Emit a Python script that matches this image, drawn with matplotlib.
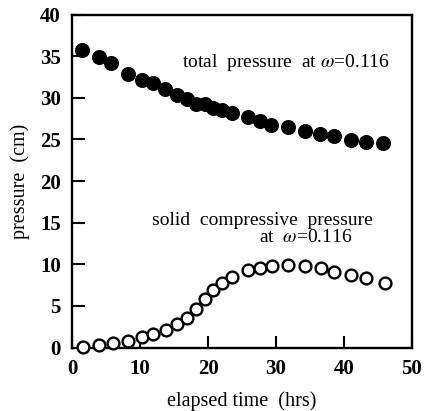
import matplotlib
matplotlib.use("Agg")
import matplotlib.pyplot as plt

# total pressure (filled circles)
t_total = [1.4, 3.9, 5.8, 8.3, 10.3, 11.9, 13.7, 15.4, 16.9, 18.2, 19.6, 20.8, 22.0, 23.6,
           25.9, 27.6, 29.2, 31.8, 34.3, 36.5, 38.5, 41.0, 43.2, 45.8]
p_total = [35.8, 34.9, 34.2, 32.9, 32.1, 31.8, 31.0, 30.3, 29.9, 29.3, 29.2, 28.8, 28.5, 28.2,
           27.7, 27.2, 26.7, 26.5, 26.0, 25.7, 25.4, 24.9, 24.7, 24.6]

# solid compressive pressure (open circles)
t_solid = [1.6, 3.9, 6.0, 8.3, 10.3, 11.9, 13.8, 15.5, 16.9, 18.2, 19.6, 20.8, 22.0, 23.6,
           25.9, 27.6, 29.4, 31.8, 34.3, 36.6, 38.5, 41.0, 43.3, 46.0]
p_solid = [0.1, 0.3, 0.5, 0.8, 1.3, 1.6, 2.1, 2.8, 3.6, 4.6, 5.8, 6.9, 7.8, 8.5,
           9.3, 9.6, 9.8, 9.9, 9.8, 9.5, 9.1, 8.7, 8.3, 7.8]

x_ticks = [0, 10, 20, 30, 40, 50]
y_ticks = [0, 5, 10, 15, 20, 25, 30, 35, 40]

plt.rcParams['font.family'] = ['Liberation Serif', 'DejaVu Serif']
plt.rcParams['mathtext.fontset'] = 'stix'

fig = plt.figure(figsize=(4.32, 4.11), dpi=100)
ax = fig.add_axes([0.1667, 0.1545, 0.787, 0.810])

ax.plot(t_total, p_total, 'o', color='black', markersize=9.8, clip_on=False, zorder=3)
ax.plot(t_solid, p_solid, 'o', markerfacecolor='white', markeredgecolor='black',
        markersize=8.5, markeredgewidth=1.7, clip_on=False, zorder=3)

ax.set_xlim(0, 50)
ax.set_ylim(0, 40)
ax.set_xticks(x_ticks)
ax.set_yticks(y_ticks)
ax.tick_params(direction='in', length=9, width=1.5, top=False, right=False,
               labelsize=15, pad=8)
for lbl in ax.get_xticklabels() + ax.get_yticklabels():
    lbl.set_fontweight('bold')
for s in ax.spines.values():
    s.set_linewidth(1.7)

ax.set_xlabel('elapsed time  (hrs)', fontsize=14.5, labelpad=9)
ax.set_ylabel('pressure  (cm)', fontsize=14.5, labelpad=7)

ax.text(46.8, 34.3, r'total  pressure  at $\omega$=0.116', fontsize=14,
        ha='right', va='center')
ax.text(44.3, 15.3, 'solid  compressive  pressure', fontsize=14,
        ha='right', va='center')
ax.text(41.2, 13.2, r'at  $\omega$=0.116', fontsize=14, ha='right', va='center')

fig.savefig('out.png', dpi=100)
